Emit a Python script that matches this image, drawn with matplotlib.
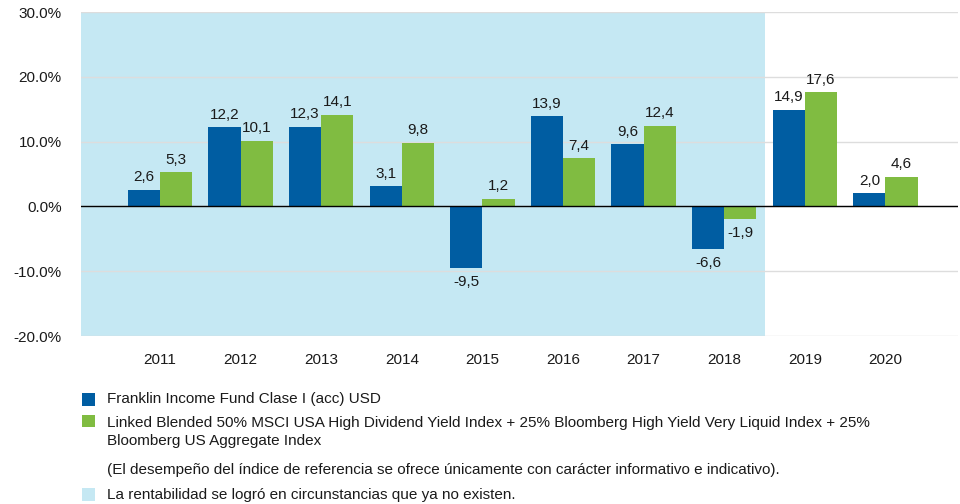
import matplotlib
matplotlib.use("Agg")
import matplotlib.pyplot as plt
from matplotlib.patches import Rectangle

years = ["2011", "2012", "2013", "2014", "2015", "2016", "2017", "2018", "2019", "2020"]
fund = [2.6, 12.2, 12.3, 3.1, -9.5, 13.9, 9.6, -6.6, 14.9, 2.0]
index = [5.3, 10.1, 14.1, 9.8, 1.2, 7.4, 12.4, -1.9, 17.6, 4.6]
shaded_until = "2018"
yticks = [-20, -10, 0, 10, 20, 30]

fund_label = "Franklin Income Fund Clase I (acc) USD"
index_label = ("Linked Blended 50% MSCI USA High Dividend Yield Index + 25% Bloomberg High Yield Very Liquid Index + 25%\n"
               "Bloomberg US Aggregate Index")
note = "(El desempeño del índice de referencia se ofrece únicamente con carácter informativo e indicativo)."
shade_label = "La rentabilidad se logró en circunstancias que ya no existen."

BLUE = "#005DA2"
GREEN = "#80BC41"
SHADE = "#C5E8F3"
GRID = "#DDDDDD"
TXT = "#1a1a1a"

plt.rcParams["font.family"] = ["Liberation Sans", "DejaVu Sans"]
FS = 11

W, H = 960, 504
fig = plt.figure(figsize=(W / 100, H / 100), dpi=100)
ax = fig.add_axes([81 / W, 1 - 336 / H, (958 - 81) / W, (336 - 12) / H])

x = list(range(len(years)))
bw = 0.4
ax.set_xlim(-0.98, len(years) - 1 + 0.9)
ax.set_ylim(-20, 30)

# shaded period
last = years.index(shaded_until)
ax.axvspan(-0.98, last + 0.5, color=SHADE, zorder=0, lw=0)

for t in yticks:
    ax.axhline(t, color=GRID, lw=1, zorder=1)
ax.axhline(0, color="black", lw=1, zorder=3)

ax.bar([i - bw / 2 for i in x], fund, width=bw, color=BLUE, zorder=2)
ax.bar([i + bw / 2 for i in x], index, width=bw, color=GREEN, zorder=2)

# value labels with decimal comma
for i in x:
    for off, v in ((-bw / 2, fund[i]), (bw / 2, index[i])):
        txt = f"{v:.1f}".replace(".", ",")
        if v >= 0:
            ax.annotate(txt, (i + off, v), xytext=(0, 4), textcoords="offset points",
                        ha="center", va="bottom", fontsize=FS, color=TXT)
        else:
            ax.annotate(txt, (i + off, v), xytext=(0, -5), textcoords="offset points",
                        ha="center", va="top", fontsize=FS, color=TXT)

ax.set_yticks(yticks)
ax.set_yticklabels([f"{t:.1f}%" for t in yticks], fontsize=FS, color=TXT)
ax.set_xticks(x)
ax.set_xticklabels(years, fontsize=FS, color=TXT)
ax.tick_params(length=0)
ax.tick_params(axis="y", pad=14)
ax.tick_params(axis="x", pad=12)
for s in ax.spines.values():
    s.set_visible(False)


def fig_rect(x0, y0, w, h, color):
    fig.patches.append(Rectangle((x0 / W, 1 - (y0 + h) / H), w / W, h / H,
                                 transform=fig.transFigure, color=color, lw=0))


def fig_txt(x0, yc, s):
    fig.text(x0 / W, 1 - yc / H, s, fontsize=FS, va="center", ha="left",
             color=TXT, linespacing=1.45)


# legend
fig_rect(82, 393, 13, 13, BLUE)
fig_txt(107, 399, fund_label)
fig_rect(82, 415, 13, 12, GREEN)
fig_txt(107, 432, index_label)
fig_txt(107, 470, note)
fig_rect(82, 488, 13, 13, SHADE)
fig_txt(107, 495, shade_label)

fig.savefig("out.png", dpi=100)
